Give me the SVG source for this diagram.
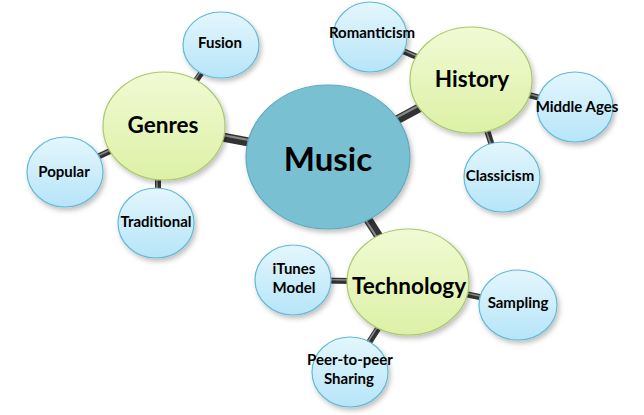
<svg xmlns="http://www.w3.org/2000/svg" width="644" height="415" viewBox="0 0 644 415">
<defs>
<linearGradient id="gBlue" x1="0" y1="0" x2="0" y2="1">
<stop offset="0" stop-color="#e4f6fd"/>
<stop offset="1" stop-color="#b6e5f8"/>
</linearGradient>
<linearGradient id="gGreen" x1="0" y1="0" x2="0" y2="1">
<stop offset="0" stop-color="#f1fad4"/>
<stop offset="1" stop-color="#dcf1a6"/>
</linearGradient>
<filter id="sh" x="-20%" y="-20%" width="150%" height="150%">
<feDropShadow dx="2" dy="3" stdDeviation="2.5" flood-color="#000" flood-opacity="0.25"/>
</filter>
</defs>
<style>
.small ellipse{fill:url(#gBlue);stroke:#63b9d6;stroke-width:1.2;filter:url(#sh)}
.mid ellipse{fill:url(#gGreen);stroke:#a9c96a;stroke-width:1.2;filter:url(#sh)}
.main ellipse{fill:#79c0d3;stroke:#5ea9bf;stroke-width:1.2;filter:url(#sh)}
text{font-family:Lato,"Liberation Sans",sans-serif;font-weight:bold;fill:#000;text-anchor:middle}
.small text{font-size:15px}
.mid text{font-size:22.5px}
.main text{font-size:33px}
.c1{stroke:#333;stroke-width:9;stroke-linecap:butt}
.c1h{stroke:#8a8a8a;stroke-width:2}
.c2{stroke:#333;stroke-width:6}
.c2h{stroke:#8a8a8a;stroke-width:1.5}
</style>
<g id="connectors">
<line class="c1" x1="328" y1="157" x2="164" y2="126"/>
<line class="c1h" x1="328" y1="155" x2="164" y2="124"/>
<line class="c1" x1="328" y1="157" x2="471" y2="80"/>
<line class="c1h" x1="327" y1="155" x2="470" y2="78"/>
<line class="c1" x1="328" y1="157" x2="408" y2="282"/>
<line class="c1h" x1="326" y1="158" x2="406" y2="283"/>
<line class="c2" x1="164" y1="126" x2="221" y2="45"/>
<line class="c2h" x1="163" y1="125" x2="220" y2="44"/>
<line class="c2" x1="164" y1="126" x2="65" y2="172"/>
<line class="c2h" x1="164" y1="125" x2="65" y2="171"/>
<line class="c2" x1="158" y1="126" x2="158" y2="223"/>
<line class="c2h" x1="157" y1="126" x2="157" y2="223"/>
<line class="c2" x1="471" y1="80" x2="370" y2="37"/>
<line class="c2h" x1="471" y1="79" x2="370" y2="36"/>
<line class="c2" x1="471" y1="80" x2="575" y2="107"/>
<line class="c2h" x1="471" y1="79" x2="575" y2="106"/>
<line class="c2" x1="471" y1="80" x2="502" y2="177"/>
<line class="c2h" x1="470" y1="80" x2="501" y2="177"/>
<line class="c2" x1="408" y1="282" x2="293" y2="280"/>
<line class="c2h" x1="408" y1="281" x2="293" y2="279"/>
<line class="c2" x1="408" y1="282" x2="350" y2="372"/>
<line class="c2h" x1="407" y1="281" x2="349" y2="371"/>
<line class="c2" x1="408" y1="282" x2="518" y2="305"/>
<line class="c2h" x1="408" y1="281" x2="518" y2="304"/>
</g>
<g id="fusion" class="small"><ellipse cx="221" cy="45" rx="38" ry="33"/><text x="220" y="48">Fusion</text></g>
<g id="popular" class="small"><ellipse cx="65" cy="172" rx="38" ry="35"/><text x="64" y="177">Popular</text></g>
<g id="traditional" class="small"><ellipse cx="156" cy="223" rx="38" ry="35"/><text x="156" y="227">Traditional</text></g>
<g id="romanticism" class="small"><ellipse cx="370" cy="37" rx="37" ry="35"/><text x="372" y="38">Romanticism</text></g>
<g id="middle-ages" class="small"><ellipse cx="575" cy="107" rx="38" ry="35"/><text x="577" y="112">Middle Ages</text></g>
<g id="classicism" class="small"><ellipse cx="502" cy="177" rx="38" ry="35"/><text x="500" y="181">Classicism</text></g>
<g id="itunes" class="small"><ellipse cx="293" cy="280" rx="38" ry="35"/><text x="294" y="274">iTunes</text><text x="294" y="293">Model</text></g>
<g id="peer" class="small"><ellipse cx="350" cy="372" rx="38" ry="35"/><text x="350" y="365">Peer-to-peer</text><text x="349" y="384">Sharing</text></g>
<g id="sampling" class="small"><ellipse cx="518" cy="305" rx="39" ry="35"/><text x="518" y="308">Sampling</text></g>
<g id="genres" class="mid"><ellipse cx="164" cy="126" rx="61" ry="54"/><text x="163" y="133">Genres</text></g>
<g id="history" class="mid"><ellipse cx="471" cy="80" rx="61" ry="53"/><text x="472" y="87">History</text></g>
<g id="technology" class="mid"><ellipse cx="408" cy="282" rx="61" ry="53"/><text x="409" y="294">Technology</text></g>
<g id="music" class="main"><ellipse cx="328" cy="157" rx="82" ry="72"/><text x="328" y="171">Music</text></g>
</svg>
